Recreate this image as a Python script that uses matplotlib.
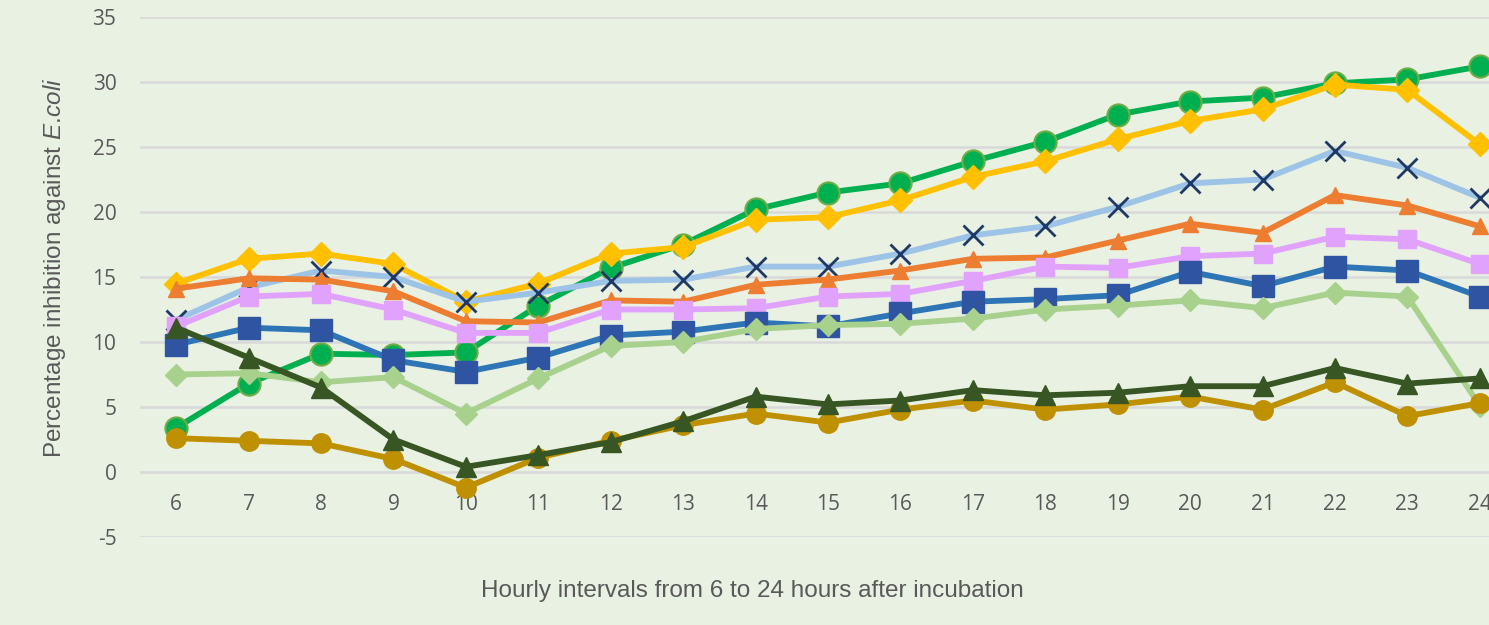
import matplotlib
matplotlib.use("Agg")
import matplotlib.pyplot as plt

plt.rcParams["mathtext.fontset"] = "custom"
plt.rcParams["mathtext.rm"] = "Liberation Sans"
plt.rcParams["mathtext.it"] = "Liberation Sans:italic"
plt.rcParams["axes.unicode_minus"] = False

hours = list(range(6, 25))

green_circle = [3.4, 6.8, 9.1, 9.0, 9.2, 12.8, 15.7, 17.5, 20.2, 21.5, 22.2, 23.9, 25.4, 27.5, 28.5, 28.8, 29.9, 30.2, 31.2]
yellow_diamond = [14.5, 16.4, 16.8, 16.0, 13.1, 14.5, 16.8, 17.3, 19.4, 19.6, 20.9, 22.7, 23.9, 25.6, 27.0, 27.9, 29.8, 29.4, 25.2]
lightblue_x = [11.7, 14.2, 15.5, 15.0, 13.1, 13.8, 14.7, 14.8, 15.8, 15.8, 16.8, 18.2, 18.9, 20.4, 22.2, 22.5, 24.7, 23.4, 21.1]
orange_triangle = [14.1, 14.9, 14.8, 13.9, 11.6, 11.5, 13.2, 13.1, 14.4, 14.8, 15.5, 16.4, 16.5, 17.8, 19.1, 18.4, 21.3, 20.5, 18.9]
pink_square = [11.2, 13.5, 13.7, 12.5, 10.7, 10.7, 12.5, 12.5, 12.6, 13.5, 13.7, 14.7, 15.8, 15.7, 16.6, 16.8, 18.1, 17.9, 16.0]
blue_square = [9.8, 11.1, 10.9, 8.6, 7.7, 8.8, 10.5, 10.8, 11.5, 11.2, 12.2, 13.1, 13.3, 13.6, 15.4, 14.3, 15.8, 15.5, 13.5]
lightgreen_diamond = [7.5, 7.6, 6.9, 7.3, 4.5, 7.2, 9.7, 10.0, 11.0, 11.3, 11.4, 11.8, 12.5, 12.8, 13.2, 12.6, 13.8, 13.5, 5.1]
gold_circle = [2.6, 2.4, 2.2, 1.0, -1.2, 1.1, 2.4, 3.6, 4.5, 3.8, 4.8, 5.5, 4.8, 5.2, 5.8, 4.8, 6.9, 4.3, 5.3]
darkgreen_triangle = [11.1, 8.8, 6.5, 2.5, 0.4, 1.3, 2.3, 3.9, 5.8, 5.2, 5.5, 6.3, 5.9, 6.1, 6.6, 6.6, 8.0, 6.8, 7.2]

BG = "#e9f1e2"
TXT = "#595959"

fig = plt.figure(figsize=(14.89, 6.25), dpi=100, facecolor=BG)
# plot area runs past the right edge, like the cropped original
ax = fig.add_axes([140 / 1489, 88 / 625, 1376 / 1489, 520 / 625])
ax.set_facecolor(BG)

lw = 4.2
ax.plot(hours, green_circle, color="#00b050", lw=lw, marker="o", ms=16,
        mfc="#00b050", mec="#70ad47", mew=1.5, zorder=3)
ax.plot(hours, yellow_diamond, color="#ffc000", lw=lw, marker="D", ms=12,
        mfc="#ffc000", mec="#ffc000", zorder=3)
ax.plot(hours, lightblue_x, color="#9dc3e6", lw=lw, marker="x", ms=14,
        mec="#203864", mew=2, zorder=3)
ax.plot(hours, orange_triangle, color="#ed7d31", lw=lw, marker="^", ms=11,
        mfc="#ed7d31", mec="#ed7d31", zorder=3)
ax.plot(hours, pink_square, color="#e0a2fd", lw=lw, marker="s", ms=13,
        mfc="#e0a2fd", mec="#e0a2fd", zorder=3)
ax.plot(hours, blue_square, color="#2e75b6", lw=lw, marker="s", ms=16,
        mfc="#2f55a2", mec="#2f55a2", zorder=3)
ax.plot(hours, lightgreen_diamond, color="#a9d18e", lw=lw, marker="D", ms=11,
        mfc="#a9d18e", mec="#a9d18e", zorder=3)
ax.plot(hours, gold_circle, color="#bf9000", lw=lw, marker="o", ms=14,
        mfc="#bf9000", mec="#bf9000", zorder=3)
ax.plot(hours, darkgreen_triangle, color="#375623", lw=lw, marker="^", ms=15,
        mfc="#375623", mec="#375623", zorder=3)

ax.set_xlim(5.5, 24.5)
ax.set_ylim(-5, 35)
ax.set_yticks(range(-5, 36, 5))
ax.set_xticks(hours)
ax.grid(axis="y", color="#d9d9d9", lw=1.8, zorder=0)
ax.grid(axis="x", visible=False)
for s in ax.spines.values():
    s.set_visible(False)
ax.spines["bottom"].set_position(("data", 0))
ax.tick_params(length=0, labelsize=15, labelcolor=TXT)
ax.tick_params(axis="x", pad=16)
ax.tick_params(axis="y", pad=17)
for lab in ax.get_xticklabels() + ax.get_yticklabels():
    lab.set_fontfamily("Open Sans")

fig.text(55 / 1489, 1 - 268 / 625, "Percentage inhibition against $\\mathit{E.\\!coli}$",
         rotation=90, ha="center", va="center", fontsize=17.5,
         family="Liberation Sans", color=TXT)
fig.text(752 / 1489, 1 - 591 / 625, "Hourly intervals from 6 to 24 hours after incubation",
         ha="center", va="center", fontsize=17.5, family="Liberation Sans", color=TXT)

fig.savefig("out.png", dpi=100, facecolor=BG)
